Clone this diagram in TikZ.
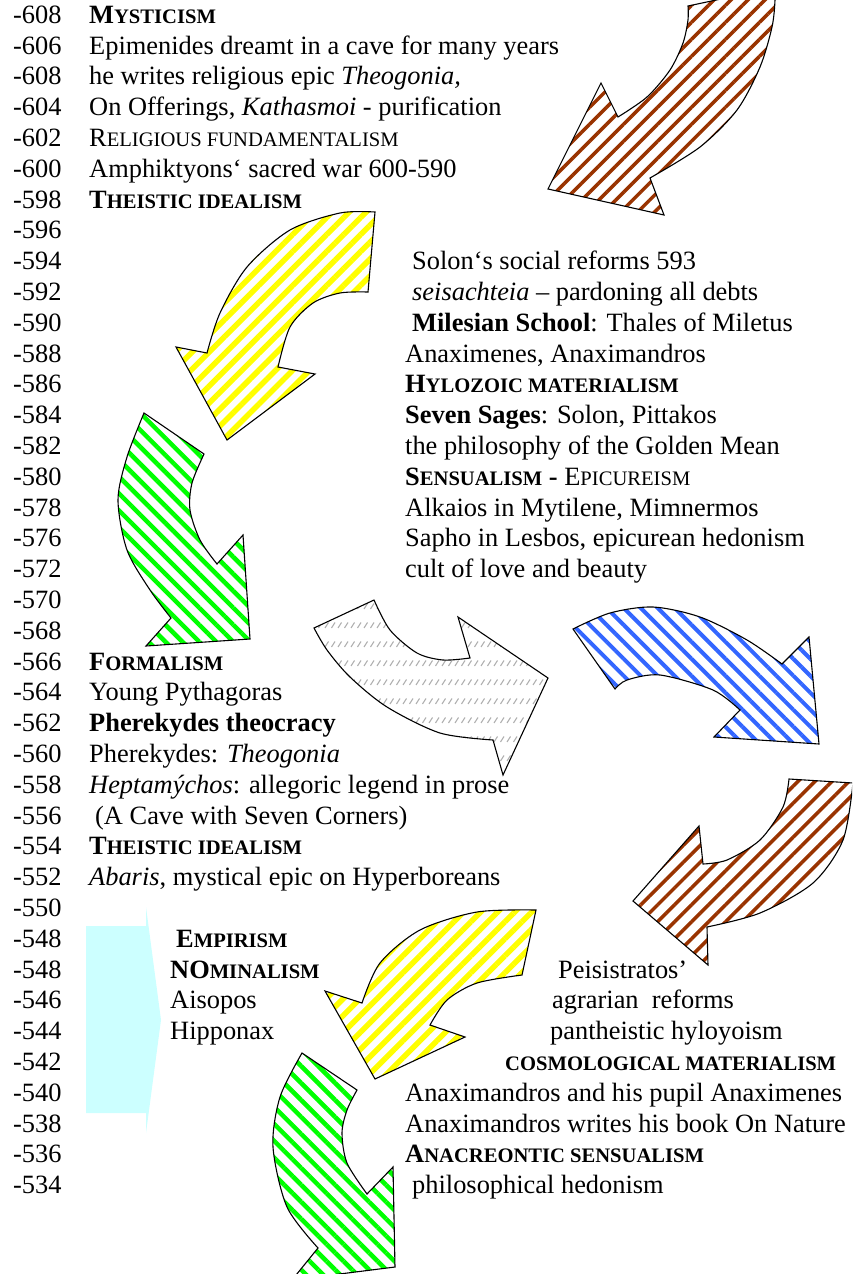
\documentclass[tikz,border=0pt]{standalone}
\usepackage{fontspec}
\setmainfont{Liberation Serif}
\usetikzlibrary{patterns,patterns.meta}
\definecolor{wbrown}{HTML}{993300}
\definecolor{wyellow}{HTML}{FFFF00}
\definecolor{wgreen}{HTML}{00FF00}
\definecolor{wblue}{HTML}{3366FF}
\definecolor{wgrey}{HTML}{B0B0B0}
\definecolor{wcyan}{HTML}{CCFFFF}
\newcommand\sk[1]{{\fontsize{20.6}{24}\selectfont #1}}
\pgfdeclarepatternformonly{greydash}{\pgfqpoint{-1pt}{-1pt}}{\pgfqpoint{5pt}{7pt}}{\pgfqpoint{6.5pt}{19pt}}{%
  \pgfsetlinewidth{1.1pt}%
  \pgfpathmoveto{\pgfqpoint{0pt}{0pt}}\pgfpathlineto{\pgfqpoint{3.5pt}{5.5pt}}\pgfusepath{stroke}}
\tikzset{
  arrowbase/.style={draw=black, line width=1.1pt, line join=miter},
  brownArrow/.style={arrowbase, pattern={Lines[angle=45,distance=12pt,line width=3.5pt]}, pattern color=wbrown},
  yellowArrow/.style={arrowbase, pattern={Lines[angle=45,distance=12pt,line width=5.5pt]}, pattern color=wyellow},
  greenArrow/.style={arrowbase, pattern={Lines[angle=-45,distance=12pt,line width=4.5pt]}, pattern color=wgreen},
  blueArrow/.style={arrowbase, pattern={Lines[angle=-45,distance=12pt,line width=4pt]}, pattern color=wblue},
  greyArrow/.style={arrowbase, pattern=greydash, pattern color=wgrey},
  txt/.style={anchor=base west, inner sep=0pt, font=\fontsize{26.4}{30.8}\selectfont},
}
\begin{document}
\begin{tikzpicture}[x=1pt,y=-1pt]
\useasboundingbox (0,0) rectangle (852,1274);
\begin{scope}
\clip (0,0) rectangle (852,1274);
% brown arrow 1
\path[brownArrow] (782,-14) -- (688,6) -- plot[smooth] coordinates {(688,6) (688,20) (683,43) (670,70) (647,97) (618,117)} -- (601,83) -- (548,189) -- (664,215) -- (650,178) -- plot[smooth] coordinates {(650,178) (700,147) (737,110) (760,67) (772,27) (775,0) (774,-14)} -- cycle;
% yellow arrow 1
\path[yellowArrow] (375,212) -- plot[smooth] coordinates {(375,212) (340,213) (290,230) (247,267) (220,313) (207,353)} -- (176,347) -- (227,440) -- (315,374) -- plot[smooth] coordinates {(278,367) (290,327) (313,303) (340,293) (368,292)} -- cycle;
% green arrow 1
\path[greenArrow] (144,413) -- plot[smooth] coordinates {(144,413) (127,457) (118,500) (127,550) (150,590) (171,618)} -- (146,646) -- (250,639) -- (243,535) -- plot[smooth] coordinates {(217,564) (200,540) (190,510) (192,483) (204,454)} -- cycle;
% grey arrow
\path[greyArrow] (314,628) -- (374,600) -- plot[smooth] coordinates {(374,600) (390,630) (417,653) (443,660) (470,658)} -- (458,617) -- (548,678) -- (503,775) -- plot[smooth] coordinates {(493,740) (440,733) (387,707) (350,677) (327,650) (314,628)} -- cycle;
% blue arrow
\path[blueArrow] (573,629) -- plot[smooth] coordinates {(573,629) (610,613) (653,607) (700,617) (747,640) (782,664)} -- (809,637) -- (819,744) -- (714,737) -- plot[smooth] coordinates {(740,710) (713,690) (660,675) (627,680) (615,689)} -- cycle;
% brown arrow 2
\path[brownArrow] (789,779) -- plot[smooth] coordinates {(789,779) (783,807) (760,840) (727,860) (703,864)} -- (699,826) -- (633,901) -- (708,965) -- plot[smooth] coordinates {(707,927) (760,913) (813,883) (843,840) (853,783)} -- cycle;
% yellow arrow 2
\path[yellowArrow] (536,910) -- plot[smooth] coordinates {(536,910) (477,912) (420,930) (380,963) (362,1003)} -- (325,991) -- (375,1079) -- (465,1037) -- plot[smooth] coordinates {(430,1025) (447,1000) (477,983) (522,975)} -- cycle;
% green arrow 2
\path[greenArrow] (302,1053) -- plot[smooth] coordinates {(302,1053) (280,1097) (273,1147) (287,1207) (318,1248)} -- (292,1280) -- (395,1267) -- (393,1167) -- plot[smooth] coordinates {(367,1194) (347,1163) (342,1133) (347,1110) (357,1090)} -- cycle;
% cyan arrow
\fill[wcyan] (86,926) -- (146,926) -- (146,907) -- (161,1020) -- (146,1133) -- (146,1113) -- (86,1113) -- cycle;
\end{scope}
% year column
\foreach \i/\yr in {0/-608,1/-606,2/-608,3/-604,4/-602,5/-600,6/-598,7/-596,8/-594,9/-592,10/-590,11/-588,12/-586,13/-584,14/-582,15/-580,16/-578,17/-576,18/-572,19/-570,20/-568,21/-566,22/-564,23/-562,24/-560,25/-558,26/-556,27/-554,28/-552,29/-550,30/-548,31/-548,32/-546,33/-544,34/-542,35/-540,36/-538,37/-536,38/-534}
  \node[txt] (y\i) at (13,{23.3+30.8*\i}) {\yr};
% left text column
\node[txt] (l0) at (89,23.3) {\textbf{M\sk{YSTICISM}}};
\node[txt] (l1) at (89,54.1) {Epimenides dreamt in a cave for many years};
\node[txt] (l2) at (89,84.9) {he writes religious epic \textit{Theogonia,}};
\node[txt] (l3) at (89,115.7) {On Offerings, \textit{Kathasmoi} - purification};
\node[txt] (l4) at (89,146.5) {R\sk{ELIGIOUS FUNDAMENTALISM}};
\node[txt] (l5) at (89,177.3) {Amphiktyons‘ sacred war 600-590};
\node[txt] (l6) at (89,208.1) {\textbf{T\sk{HEISTIC IDEALISM}}};
% right text column (upper)
\node[txt] (r8) at (412,269.7) {Solon‘s social reforms 593};
\node[txt] (r9) at (412,300.5) {\textit{seisachteia} – pardoning all debts};
\node[txt] (r10) at (412,331.3) {\textbf{Milesian School}: Thales of Miletus};
\node[txt] (r11) at (405,362.1) {Anaximenes, Anaximandros};
\node[txt] (r12) at (405,392.9) {\textbf{H\sk{YLOZOIC MATERIALISM}}};
\node[txt] (r13) at (405,423.7) {\textbf{Seven Sages}: Solon, Pittakos};
\node[txt] (r14) at (405,454.5) {the philosophy of the Golden Mean};
\node[txt] (r15) at (405,485.3) {\textbf{S\sk{ENSUALISM} -} E\sk{PICUREISM}};
\node[txt] (r16) at (405,516.1) {Alkaios in Mytilene, Mimnermos};
\node[txt] (r17) at (405,546.9) {Sapho in Lesbos, epicurean hedonism};
\node[txt] (r18) at (405,577.7) {cult of love and beauty};
% left text column (middle)
\node[txt] (l21) at (89,670.1) {\textbf{F\sk{ORMALISM}}};
\node[txt] (l22) at (89,700.9) {Young Pythagoras};
\node[txt] (l23) at (89,731.7) {\textbf{Pherekydes theocracy}};
\node[txt] (l24) at (89,762.5) {Pherekydes: \textit{Theogonia}};
\node[txt] (l25) at (89,793.3) {\textit{Heptamýchos}: allegoric legend in prose};
\node[txt] (l26) at (95,824.1) {(A Cave with Seven Corners)};
\node[txt] (l27) at (89,854.9) {\textbf{T\sk{HEISTIC IDEALISM}}};
\node[txt] (l28) at (89,885.7) {\textit{Abaris}, mystical epic on Hyperboreans};
% second column (lower)
\node[txt] (m30) at (176,947.3) {\textbf{E\sk{MPIRISM}}};
\node[txt] (m31) at (170,978.1) {\textbf{NO\sk{MINALISM}}};
\node[txt] (m32) at (170,1008.9) {Aisopos};
\node[txt] (m33) at (170,1039.7) {Hipponax};
% right text (lower)
\node[txt] (r31) at (558,978.1) {Peisistratos’};
\node[txt] (r32) at (552,1008.9) {agrarian\ \ reforms};
\node[txt] (r33) at (550,1039.7) {pantheistic hyloyoism};
\node[txt] (r34) at (505,1070.5) {\textbf{\sk{COSMOLOGICAL MATERIALISM}}};
\node[txt] (r35) at (405,1101.3) {Anaximandros and his pupil Anaximenes};
\node[txt] (r36) at (405,1132.1) {Anaximandros writes his book On Nature};
\node[txt] (r37) at (405,1162.9) {\textbf{A\sk{NACREONTIC SENSUALISM}}};
\node[txt] (r38) at (412,1193.7) {philosophical hedonism};
\end{tikzpicture}
\end{document}
